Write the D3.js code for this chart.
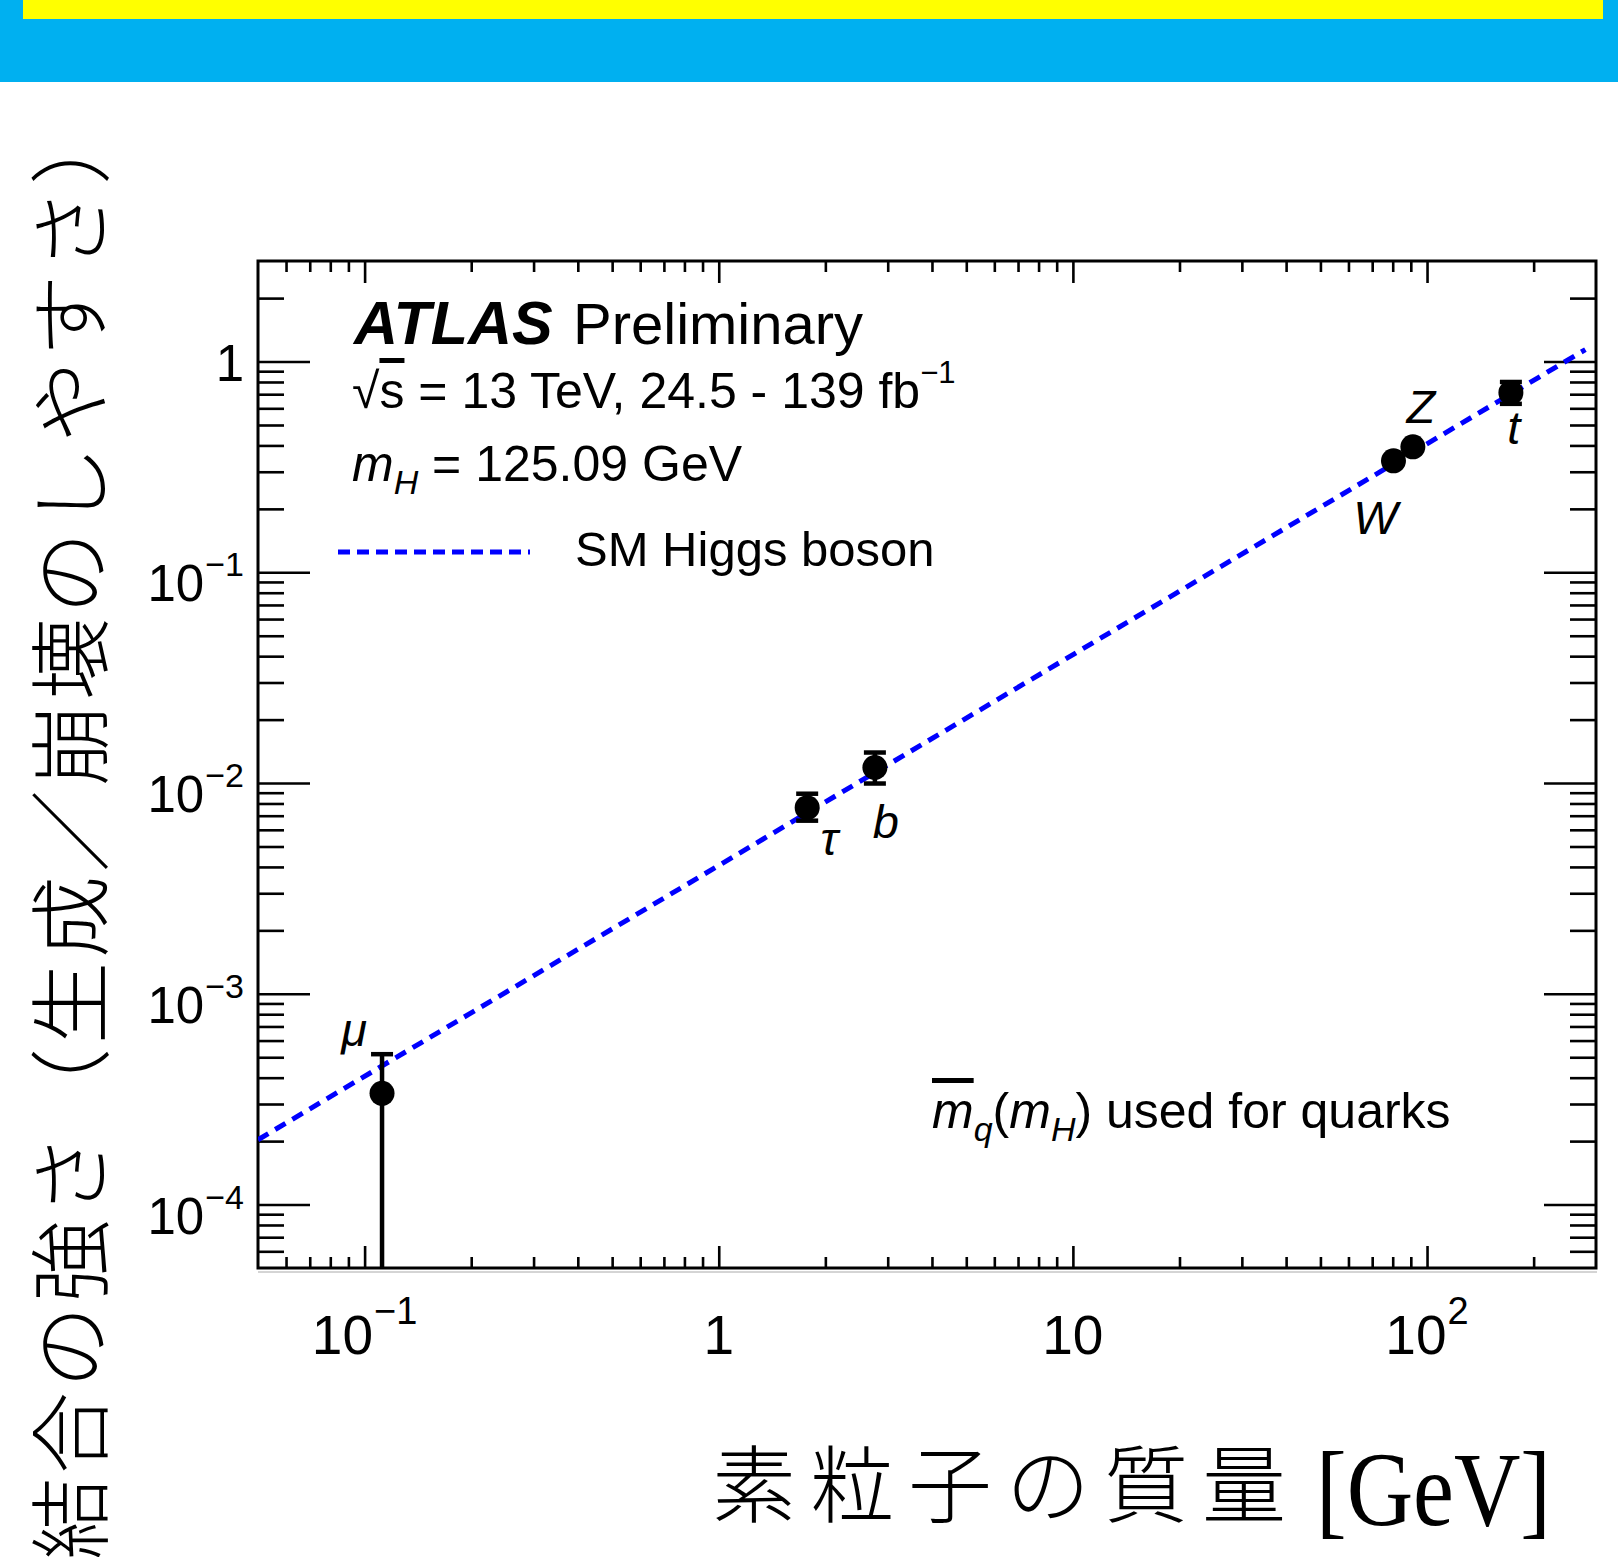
<!DOCTYPE html>
<html>
<head>
<meta charset="utf-8">
<script src="https://cdn.jsdelivr.net/npm/d3@7"></script>
<style>
body{margin:0;background:#fff;}
text{font-family:"Liberation Sans",Arial,sans-serif;fill:#000;}
</style>
</head>
<body>
<div id="chart"></div>
<script>
var particles = ["μ", "τ", "b", "W", "Z", "t"];
var masses = [0.112, 1.777, 2.76, 80.4, 91.2, 172.5];
var couplings = [3.37e-4, 7.64e-3, 1.185e-2, 0.338, 0.394, 0.712];
var errHigh = [5.17e-4, 8.9e-3, 1.396e-2, 0.345, 0.401, 0.80];
var errLow = [1e-6, 6.63e-3, 9.95e-3, 0.331, 0.387, 0.63];

// SM Higgs boson expectation, end points of the dashed line
var smMass = [0.05, 280];
var smCoupling = [2.03e-4, 1.14];

// tick labels
var xMajor = [0.1, 1, 10, 100];
var xMajorBase = ["10", "1", "10", "10"];
var xMajorExp = ["−1", "", "", "2"];
var yMajor = [1e-4, 1e-3, 1e-2, 1e-1, 1];
var yMajorBase = ["10", "10", "10", "10", "1"];
var yMajorExp = ["−4", "−3", "−2", "−1", ""];

// where the particle names sit relative to their marker
var labelOffset = [[-28, -47], [22, 47], [11, 70], [-18, 73], [8, -24], [3, 51]];

function init(){
    var w = 1618, h = 1557;
    var left = 258, right = 1596, top = 261, bottom = 1268;

    var svg = d3.select("#chart").append("svg")
        .attr("width", w).attr("height", h);

    // header bands
    svg.append("rect").attr("x", 0).attr("y", 0).attr("width", w).attr("height", 82).attr("fill", "#00b0f0");
    svg.append("rect").attr("x", 23).attr("y", 0).attr("width", 1580).attr("height", 19).attr("fill", "#ffff00");

    var x = d3.scaleLog().domain([0.05, 300]).range([left, right]);
    var y = d3.scaleLog().domain([5e-5, 3]).range([bottom, top]);

    function isMinor(v, d){
        var l = Math.log10(v);
        return Math.abs(l - Math.round(l)) > 1e-6 && v > d[0] * 1.0001 && v < d[1] * 0.9999;
    }
    var xMinor = x.ticks().filter(function(v){ return isMinor(v, x.domain()); });
    var yMinor = y.ticks().filter(function(v){ return isMinor(v, y.domain()); });

    function styleAxis(g){
        g.select(".domain").remove();
        g.selectAll(".tick line").attr("stroke", "#000").attr("stroke-width", 2.6);
        g.selectAll(".tick text").remove();
    }

    // ticks on all four sides, pointing inwards
    [[xMajor, 22], [xMinor, 11]].forEach(function(t){
        svg.append("g").attr("transform", "translate(0," + bottom + ")")
            .call(d3.axisBottom(x).tickValues(t[0]).tickSize(-t[1]).tickFormat("")).call(styleAxis);
        svg.append("g").attr("transform", "translate(0," + top + ")")
            .call(d3.axisTop(x).tickValues(t[0]).tickSize(-t[1]).tickFormat("")).call(styleAxis);
    });
    [[yMajor, 52], [yMinor, 26]].forEach(function(t){
        svg.append("g").attr("transform", "translate(" + left + ",0)")
            .call(d3.axisLeft(y).tickValues(t[0]).tickSize(-t[1]).tickFormat("")).call(styleAxis);
        svg.append("g").attr("transform", "translate(" + right + ",0)")
            .call(d3.axisRight(y).tickValues(t[0]).tickSize(-t[1]).tickFormat("")).call(styleAxis);
    });

    // frame
    svg.append("rect").attr("x", left).attr("y", top)
        .attr("width", right - left).attr("height", bottom - top)
        .attr("fill", "none").attr("stroke", "#000").attr("stroke-width", 3);
    svg.append("line").attr("x1", left).attr("x2", right + 1).attr("y1", bottom + 4).attr("y2", bottom + 4)
        .attr("stroke", "#aaa").attr("stroke-width", 1);

    // tick labels
    xMajor.forEach(function(v, i){
        var t = svg.append("text").attr("x", x(v)).attr("y", 1354)
            .attr("text-anchor", "middle").attr("font-size", 55);
        t.append("tspan").text(xMajorBase[i]);
        if (xMajorExp[i]) t.append("tspan").attr("dx", 1).attr("dy", -30).attr("font-size", 38).text(xMajorExp[i]);
    });
    yMajor.forEach(function(v, i){
        var t = svg.append("text").attr("x", 244).attr("y", y(v) + (yMajorExp[i] ? 29 : 19))
            .attr("text-anchor", "end").attr("font-size", 51);
        t.append("tspan").text(yMajorBase[i]);
        if (yMajorExp[i]) t.append("tspan").attr("dx", 1).attr("dy", -25).attr("font-size", 34).text(yMajorExp[i]);
    });

    // clip for plot contents
    svg.append("clipPath").attr("id", "plotclip").append("rect")
        .attr("x", left).attr("y", top).attr("width", right - left).attr("height", bottom - top);
    var plot = svg.append("g").attr("clip-path", "url(#plotclip)");

    // SM line
    var line = d3.line().x(function(d){ return x(d[0]); }).y(function(d){ return y(d[1]); });
    plot.append("path").datum(d3.zip(smMass, smCoupling))
        .attr("d", line).attr("fill", "none")
        .attr("stroke", "#0000ff").attr("stroke-width", 5).attr("stroke-dasharray", "12,8");

    // error bars
    var pts = particles.map(function(p, i){
        return {name: p, m: masses[i], c: couplings[i], hi: errHigh[i], lo: errLow[i], off: labelOffset[i]};
    });
    plot.selectAll(".err").data(pts).enter().append("line")
        .attr("x1", function(d){ return x(d.m); }).attr("x2", function(d){ return x(d.m); })
        .attr("y1", function(d){ return y(d.hi); }).attr("y2", function(d){ return Math.min(y(d.lo), bottom + 10); })
        .attr("stroke", "#000").attr("stroke-width", 4.5);
    ["hi", "lo"].forEach(function(k){
        plot.selectAll(".cap" + k).data(pts.filter(function(d){ return y(d[k]) < bottom; })).enter().append("line")
            .attr("x1", function(d){ return x(d.m) - 11; }).attr("x2", function(d){ return x(d.m) + 11; })
            .attr("y1", function(d){ return y(d[k]); }).attr("y2", function(d){ return y(d[k]); })
            .attr("stroke", "#000").attr("stroke-width", 4.5);
    });
    plot.selectAll("circle").data(pts).enter().append("circle")
        .attr("cx", function(d){ return x(d.m); }).attr("cy", function(d){ return y(d.c); })
        .attr("r", 12.5).attr("fill", "#000");

    // particle names
    svg.selectAll(".pname").data(pts).enter().append("text")
        .attr("x", function(d){ return x(d.m) + d.off[0]; })
        .attr("y", function(d){ return y(d.c) + d.off[1]; })
        .attr("text-anchor", "middle").attr("font-size", 47).attr("font-style", "italic")
        .text(function(d){ return d.name; });

    // ATLAS label block
    svg.append("text").attr("x", 354).attr("y", 344).attr("font-size", 61)
        .attr("font-weight", "bold").attr("font-style", "italic").text("ATLAS");
    svg.append("text").attr("x", 573).attr("y", 344).attr("font-size", 58).text("Preliminary");

    var s = svg.append("text").attr("x", 352).attr("y", 408).attr("font-size", 50);
    s.append("tspan").text("√");
    s.append("tspan").style("text-decoration", "overline").text("s");
    s.append("tspan").text(" = 13 TeV, 24.5 - 139 fb");
    s.append("tspan").attr("dy", -25).attr("font-size", 31).text("−1");

    var mh = svg.append("text").attr("x", 352).attr("y", 481).attr("font-size", 50);
    mh.append("tspan").attr("font-style", "italic").text("m");
    mh.append("tspan").attr("font-style", "italic").attr("dy", 13).attr("font-size", 34).text("H");
    mh.append("tspan").attr("dy", -13).text(" = 125.09 GeV");

    svg.append("line").attr("x1", 338).attr("x2", 530).attr("y1", 552).attr("y2", 552)
        .attr("stroke", "#0000ff").attr("stroke-width", 5).attr("stroke-dasharray", "12,7");
    svg.append("text").attr("x", 575).attr("y", 566).attr("font-size", 49).text("SM Higgs boson");

    var q = svg.append("text").attr("x", 932).attr("y", 1128).attr("font-size", 50);
    q.append("tspan").attr("font-style", "italic").style("text-decoration", "overline").text("m");
    q.append("tspan").attr("font-style", "italic").attr("dy", 13).attr("font-size", 34).text("q");
    q.append("tspan").attr("dy", -13).text("(");
    q.append("tspan").attr("font-style", "italic").text("m");
    q.append("tspan").attr("font-style", "italic").attr("dy", 13).attr("font-size", 34).text("H");
    q.append("tspan").attr("dy", -13).text(") used for quarks");

    // axis titles
    svg.append("text").attr("x", 712).attr("y", 1516)
        .style("font-family", "'Noto Sans CJK JP'").attr("font-weight", 200)
        .attr("font-size", 84).attr("letter-spacing", 14)
        .text("素粒子の質量");
    svg.append("text").attr("x", 1316).attr("y", 1525)
        .style("font-family", "'Liberation Serif','Times New Roman',serif")
        .attr("font-size", 106).attr("textLength", 235).attr("lengthAdjust", "spacingAndGlyphs")
        .text("[GeV]");

    svg.append("text").attr("transform", "translate(101,1560) rotate(-90)")
        .style("font-family", "'Noto Sans CJK JP'").attr("font-weight", 200)
        .attr("font-size", 82).attr("letter-spacing", 4)
        .text("結合の強さ（生成／崩壊のしやすさ）");
}
window.onload = init;
</script>
</body>
</html>
